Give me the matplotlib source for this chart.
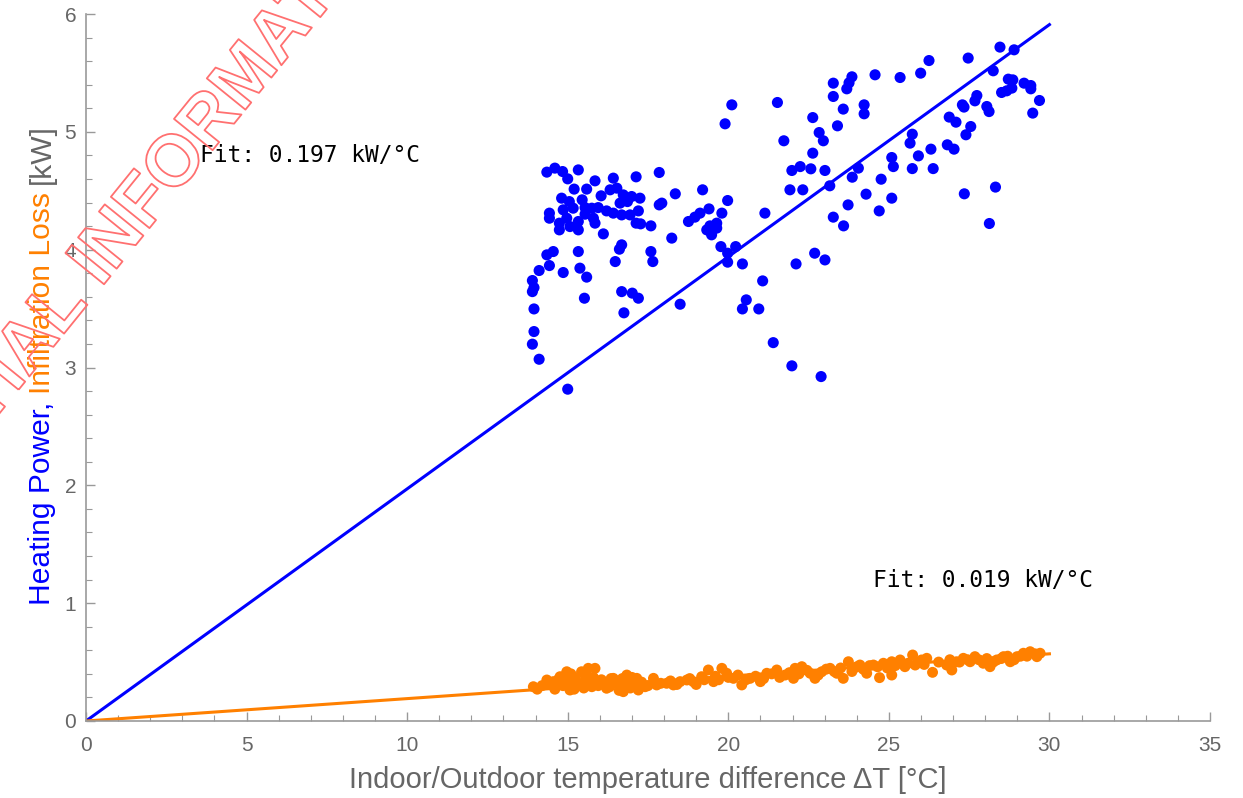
import matplotlib
matplotlib.use("Agg")
import matplotlib.pyplot as plt
import matplotlib.patheffects as pe
from matplotlib.ticker import MultipleLocator

# measured heating power (blue) vs temperature difference
heat_x = [14.35, 14.60, 14.84, 15.00, 15.33, 15.85, 16.42, 17.13, 17.85, 15.20,
          15.59, 16.04, 16.32, 16.53, 14.81, 15.05, 15.45, 16.73, 16.99, 17.25,
          16.63, 16.86, 14.86, 15.17, 15.54, 15.75, 15.95, 16.21, 16.42, 16.68,
          16.94, 17.20, 14.43, 14.43, 14.97, 15.54, 15.80, 14.74, 14.74, 15.07,
          15.33, 15.33, 15.85, 17.13, 17.27, 17.59, 16.11, 17.85, 17.93, 18.35,
          18.24, 18.76, 16.68, 16.61, 14.55, 14.35, 15.33, 17.59, 14.43, 14.11,
          14.86, 15.38, 15.59, 16.48, 17.65, 13.90, 13.95, 13.90, 16.68, 17.01,
          17.20, 15.52, 13.95, 16.75, 18.50, 13.95, 13.90, 14.11, 15.00,
          20.11, 19.90, 21.53, 23.27, 23.27, 23.69, 23.76, 23.85, 23.58, 24.23,
          24.23, 22.63, 23.40, 22.83, 22.96, 21.73, 22.63, 21.98, 22.24, 22.57,
          23.01, 24.05, 23.86, 21.92, 22.32, 23.16, 24.29, 23.73, 23.27, 23.59,
          19.20, 19.98, 19.40, 19.12, 18.96, 19.80, 21.14, 19.43, 19.64, 19.33,
          19.48, 19.64, 19.77, 20.23, 19.98, 19.98, 20.44, 22.11, 22.69, 23.01,
          21.07, 20.56, 20.44, 20.95, 21.40, 21.98, 22.89,
          28.46, 28.90, 27.47, 26.25, 24.57, 25.35, 25.99, 28.25, 28.72, 28.86,
          29.21, 29.42, 29.42, 28.83, 28.51, 28.67, 29.69, 29.48, 27.74, 27.68,
          27.29, 27.34, 28.05, 28.12, 26.88, 27.09, 27.55, 27.40, 25.73, 25.66,
          26.82, 27.03, 26.31, 25.92, 25.09, 25.14, 25.73, 26.38, 24.76, 25.09,
          24.70, 27.35, 28.32, 28.13]
heat_y = [4.658, 4.692, 4.663, 4.601, 4.677, 4.584, 4.607, 4.618, 4.655, 4.514,
          4.514, 4.457, 4.508, 4.522, 4.437, 4.408, 4.423, 4.465, 4.451, 4.437,
          4.395, 4.408, 4.338, 4.352, 4.357, 4.352, 4.357, 4.329, 4.310, 4.295,
          4.295, 4.329, 4.310, 4.267, 4.267, 4.301, 4.267, 4.225, 4.168, 4.196,
          4.239, 4.168, 4.225, 4.225, 4.219, 4.202, 4.134, 4.380, 4.395, 4.474,
          4.098, 4.239, 4.041, 4.004, 3.984, 3.956, 3.984, 3.984, 3.865, 3.823,
          3.806, 3.843, 3.767, 3.899, 3.899, 3.738, 3.678, 3.644, 3.644, 3.631,
          3.588, 3.588, 3.497, 3.464, 3.537, 3.305, 3.198, 3.070, 2.816,
          5.229, 5.068, 5.249, 5.300, 5.413, 5.365, 5.416, 5.467, 5.193, 5.229,
          5.153, 5.121, 5.051, 4.994, 4.924, 4.924, 4.819, 4.672, 4.705, 4.686,
          4.672, 4.692, 4.615, 4.508, 4.508, 4.542, 4.471, 4.380, 4.276, 4.202,
          4.508, 4.417, 4.346, 4.310, 4.276, 4.310, 4.310, 4.202, 4.225, 4.168,
          4.126, 4.183, 4.026, 4.026, 3.970, 3.894, 3.879, 3.879, 3.970, 3.913,
          3.735, 3.574, 3.497, 3.497, 3.211, 3.014, 2.923,
          5.719, 5.696, 5.626, 5.605, 5.484, 5.461, 5.498, 5.518, 5.447, 5.441,
          5.413, 5.393, 5.365, 5.371, 5.334, 5.348, 5.266, 5.159, 5.308, 5.263,
          5.229, 5.210, 5.215, 5.172, 5.125, 5.082, 5.045, 4.975, 4.980, 4.904,
          4.890, 4.853, 4.853, 4.796, 4.782, 4.705, 4.688, 4.688, 4.598, 4.437,
          4.329, 4.474, 4.531, 4.222]

# infiltration loss (orange)
infil_x = [13.93, 14.35, 14.55, 14.76, 14.97, 15.07, 15.17, 15.07, 15.33, 15.43,
           15.64, 15.85, 15.59, 15.75, 16.00, 16.21, 16.42, 16.58, 16.73, 16.84,
           16.94, 17.15, 17.20, 17.41, 17.67, 17.77, 18.08, 18.29, 18.50, 18.71,
           18.91, 19.17, 19.38, 19.54, 19.80, 19.95, 20.16, 20.42, 20.68, 21.00,
           21.20, 21.51, 21.77, 22.08, 22.29, 22.03, 22.55, 22.70, 22.91, 23.17,
           23.38, 23.58, 23.74, 23.90, 24.10, 24.31, 24.52, 24.71, 24.83, 25.09,
           25.09, 25.35, 25.50, 25.74, 25.82, 26.02, 26.18, 26.36, 26.80, 26.96,
           27.11, 27.32, 27.53, 27.68, 27.94, 28.15, 28.36, 28.57, 28.78, 28.99,
           29.19, 29.40, 29.61, 29.71,
           14.05, 14.20, 14.45, 14.60, 14.70, 14.85, 14.90, 15.00, 15.10, 15.20,
           15.25, 15.40, 15.50, 15.55, 15.70, 15.80, 15.95, 16.05, 16.15, 16.30,
           16.35, 16.50, 16.60, 16.70, 16.80, 16.95, 17.00, 17.10, 17.30, 17.50,
           17.90, 18.20, 18.40, 18.80, 19.00, 19.25, 19.60, 19.70, 20.00, 20.30,
           20.55, 20.85, 21.10, 21.35, 21.60, 21.90, 22.20, 22.45, 22.80, 23.05,
           23.30, 23.50, 23.85, 24.00, 24.20, 24.40, 24.65, 24.95, 25.20, 25.60,
           25.95, 26.10, 26.55, 26.90, 27.20, 27.45, 27.80, 28.05, 28.25, 28.50,
           28.70, 28.90, 29.10, 29.30, 29.55]
infil_y = [0.291, 0.348, 0.334, 0.376, 0.418, 0.334, 0.376, 0.263, 0.306, 0.418,
           0.447, 0.447, 0.362, 0.291, 0.334, 0.278, 0.362, 0.306, 0.249, 0.390,
           0.320, 0.362, 0.263, 0.291, 0.362, 0.306, 0.320, 0.306, 0.334, 0.348,
           0.334, 0.376, 0.433, 0.334, 0.447, 0.405, 0.362, 0.306, 0.362, 0.334,
           0.405, 0.433, 0.390, 0.447, 0.461, 0.362, 0.405, 0.362, 0.418, 0.447,
           0.405, 0.362, 0.503, 0.447, 0.475, 0.405, 0.475, 0.368, 0.490, 0.390,
           0.503, 0.518, 0.461, 0.560, 0.475, 0.518, 0.532, 0.413, 0.475, 0.433,
           0.503, 0.532, 0.503, 0.546, 0.490, 0.461, 0.518, 0.546, 0.503, 0.546,
           0.575, 0.588, 0.546, 0.575,
           0.27, 0.30, 0.31, 0.27, 0.35, 0.30, 0.38, 0.32, 0.40, 0.27,
           0.35, 0.31, 0.28, 0.38, 0.33, 0.37, 0.30, 0.35, 0.32, 0.29,
           0.36, 0.33, 0.26, 0.36, 0.31, 0.28, 0.37, 0.31, 0.33, 0.30,
           0.32, 0.34, 0.31, 0.36, 0.31, 0.35, 0.38, 0.35, 0.37, 0.39,
           0.35, 0.38, 0.36, 0.40, 0.37, 0.41, 0.40, 0.43, 0.39, 0.44,
           0.42, 0.45, 0.42, 0.46, 0.44, 0.47, 0.46, 0.45, 0.47, 0.49,
           0.50, 0.48, 0.50, 0.52, 0.50, 0.52, 0.52, 0.53, 0.50, 0.53,
           0.55, 0.52, 0.55, 0.55, 0.57]

heat_slope = 0.197
infil_slope = 0.019
fit_x = [0, 30]

BLUE = "#0000ff"
ORANGE = "#ff8000"
GRAY = "#666666"
SANS = ["Liberation Sans", "DejaVu Sans"]

fig = plt.figure(figsize=(12.43, 7.98), dpi=100)
ax = fig.add_axes([86 / 1243, 77 / 798, (1210 - 86) / 1243, (721 - 14) / 798])

ax.scatter(heat_x, heat_y, s=64, color=BLUE, edgecolors="none", zorder=3)
ax.scatter(infil_x, infil_y, s=62, color=ORANGE, edgecolors="none", zorder=3)
ax.plot(fit_x, [heat_slope * v for v in fit_x], color=BLUE, lw=2.2, zorder=2)
ax.plot(fit_x, [infil_slope * v for v in fit_x], color=ORANGE, lw=2.2, zorder=2)

ax.text(3.55, 4.80, "Fit: %.3f kW/°C" % heat_slope, family="DejaVu Sans Mono",
        fontsize=16.5, va="center", ha="left")
ax.text(24.5, 1.19, "Fit: %.3f kW/°C" % infil_slope, family="DejaVu Sans Mono",
        fontsize=16.5, va="center", ha="left")

ax.set_xlim(0, 35)
ax.set_ylim(0, 6)
ax.xaxis.set_major_locator(MultipleLocator(5))
ax.xaxis.set_minor_locator(MultipleLocator(1))
ax.yaxis.set_major_locator(MultipleLocator(1))
ax.yaxis.set_minor_locator(MultipleLocator(0.2))
for s in ["top", "right"]:
    ax.spines[s].set_visible(False)
for s in ["left", "bottom"]:
    ax.spines[s].set_color("#999999")
    ax.spines[s].set_linewidth(1.2)
ax.tick_params(which="both", direction="in", color="#999999", labelcolor=GRAY)
ax.tick_params(which="major", length=6.5, width=1.0, labelsize=15)
ax.tick_params(which="minor", length=4, width=0.8)
ax.tick_params(axis="x", which="major", pad=11)
ax.tick_params(axis="y", which="major", pad=7)
for lab in ax.get_xticklabels() + ax.get_yticklabels():
    lab.set_family(SANS)

ax.set_xlabel("Indoor/Outdoor temperature difference ΔT [°C]", fontsize=21,
              color=GRAY, family=SANS, labelpad=8)

# multi-coloured y label, built from three pieces along one baseline
fig.canvas.draw()
renderer = fig.canvas.get_renderer()
parts = [("Heating Power,", BLUE), ("Infiltration Loss", ORANGE), ("[kW]", GRAY)]
W, H = fig.bbox.width, fig.bbox.height
base_x = 50
ypos = 798 - 605
gap = 8
for txt, col in parts:
    probe = fig.text(0, 0, txt, fontsize=21.6, family=SANS)
    w = probe.get_window_extent(renderer).width
    probe.remove()
    fig.text(base_x / W, ypos / H, txt, fontsize=21.6, family=SANS, color=col,
             rotation=90, rotation_mode="anchor", ha="left", va="baseline")
    ypos += w + gap

# watermark, split at the word gap so it can be anchored there
wm_x, wm_y = 101 / W, (798 - 288) / H
wm_kw = dict(fontsize=52, family="Liberation Sans", weight="bold", rotation=51,
             va="baseline", rotation_mode="anchor", color="none", zorder=10,
             path_effects=[pe.withStroke(linewidth=1.3, foreground="#ff7070")])
fig.text(wm_x, wm_y, "CONFIDENTIAL ", ha="right", **wm_kw)
fig.text(wm_x, wm_y, "INFORMATION", ha="left", **wm_kw)

fig.savefig("out.png", dpi=100)
